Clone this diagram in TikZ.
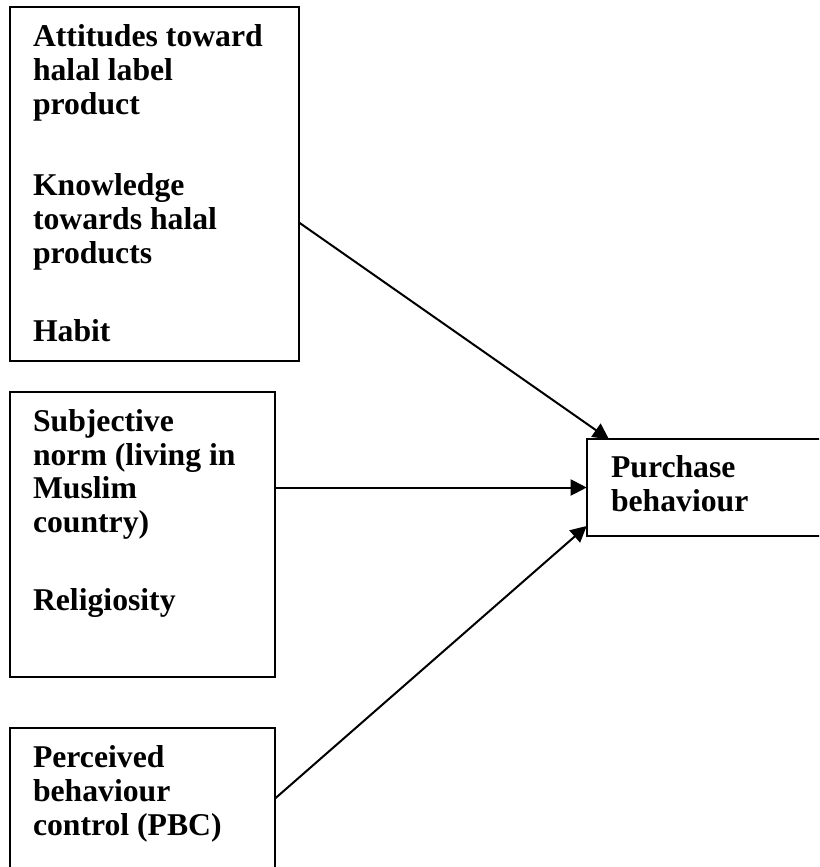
\documentclass[tikz,border=0pt]{standalone}
\usepackage{fontspec}
\setmainfont{Liberation Serif}
\usetikzlibrary{arrows.meta}
\begin{document}
\begin{tikzpicture}[x=1pt,y=-1pt,line width=2pt,
  box/.style={draw,rectangle,anchor=north west,inner sep=0pt,outer sep=0pt},
  lbl/.style={anchor=base west,inner sep=0pt,align=left,font=\fontsize{31.7}{33.7}\selectfont\bfseries},
  arr/.style={-{Triangle[length=16pt,width=16pt]}}]
\useasboundingbox (0,0) rectangle (819,867);
\clip (0,0) rectangle (819,867);
% boxes
\node[box,minimum width=289.3pt,minimum height=353.7pt] (b1) at (10,7.3) {};
\node[box,minimum width=265.3pt,minimum height=285pt] (b2) at (10,391.7) {};
\node[box,minimum width=265.3pt,minimum height=170pt] (b3) at (10,727.7) {};
\node[box,minimum width=260pt,minimum height=96.4pt] (p) at (586.7,439.3) {};
% texts (anchored at the baseline of their last line)
\node[lbl] (t1a) at (32,114.3) {Attitudes toward\\halal label\\product};
\node[lbl] (t1b) at (32,263) {Knowledge\\towards halal\\products};
\node[lbl] (t1c) at (32,341.7) {Habit};
\node[lbl] (t2a) at (32,532.5) {Subjective\\norm (living in\\Muslim\\country)};
\node[lbl] (t2b) at (32,610) {Religiosity};
\node[lbl] (t3a) at (32,835) {Perceived\\behaviour\\control (PBC)};
\node[lbl] (tp) at (610,511) {Purchase\\behaviour};
% connectors
\coordinate (s1) at (299.3,222.7);
\coordinate (e1) at (609,439.3);
\coordinate (s3) at (275.3,798.3);
\coordinate (e3) at (586.7,526);
\draw[arr] (s1) -- (e1);
\draw[arr] (b2.east |- p.west) -- (p.west);
\draw[arr] (s3) -- (e3);
\end{tikzpicture}
\end{document}
